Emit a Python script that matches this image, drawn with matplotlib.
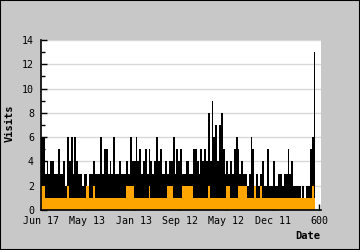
import numpy as np
import matplotlib
matplotlib.use("Agg")
import matplotlib.pyplot as plt
from matplotlib.patches import Rectangle

# ---- data (one value per 4 days) ----
visits = [6, 6, 3, 4, 3, 4, 4, 3, 3, 5,
          3, 3, 4, 2, 6, 4, 6, 3, 6, 4,
          3, 3, 2, 3, 3, 2, 3, 3, 4, 3,
          3, 3, 6, 3, 5, 5, 3, 4, 3, 6,
          3, 3, 4, 3, 3, 3, 4, 3, 6, 4,
          4, 6, 4, 5, 3, 4, 5, 3, 5, 4,
          3, 4, 6, 4, 5, 3, 3, 4, 3, 4,
          4, 6, 3, 5, 4, 5, 3, 3, 4, 4,
          3, 3, 5, 5, 4, 3, 5, 4, 5, 4,
          8, 4, 9, 6, 7, 4, 7, 8, 5, 3,
          4, 3, 4, 3, 5, 6, 5, 3, 4, 3,
          3, 2, 3, 6, 5, 2, 3, 2, 3, 4,
          2, 2, 5, 2, 2, 4, 2, 2, 3, 3,
          2, 3, 3, 5, 3, 4, 2, 2, 2, 2,
          1, 2, 1, 2, 2, 5, 6, 13]

unique = [2, 2, 1, 1, 1, 1, 1, 1, 1, 1,
          1, 1, 1, 1, 2, 1, 1, 1, 1, 1,
          1, 1, 1, 1, 2, 2, 1, 1, 2, 1,
          1, 1, 1, 1, 1, 1, 1, 1, 1, 1,
          1, 1, 1, 1, 1, 1, 2, 2, 2, 2,
          1, 1, 1, 1, 1, 1, 1, 1, 2, 1,
          1, 1, 1, 1, 1, 1, 1, 1, 2, 2,
          2, 1, 1, 1, 1, 1, 2, 2, 2, 2,
          2, 2, 1, 1, 1, 1, 1, 1, 1, 1,
          2, 1, 1, 1, 1, 1, 1, 1, 1, 1,
          2, 2, 1, 1, 1, 1, 2, 2, 2, 2,
          2, 1, 1, 1, 1, 2, 1, 1, 2, 1,
          1, 1, 1, 1, 1, 1, 1, 1, 1, 1,
          1, 1, 1, 1, 1, 1, 1, 1, 1, 1,
          1, 1, 1, 1, 1, 1, 2, 1]

day_step = 4
tick_pos = [0, 100, 200, 300, 400, 500, 600]
tick_labels = ["Jun 17", "May 13", "Jan 13", "Sep 12", "May 12", "Dec 11", "600"]

# ---- plot ----
x = np.arange(len(visits) + 1) * day_step
v = np.append(visits, visits[-1])
u = np.append(unique, unique[-1])

fig = plt.figure(figsize=(3.6, 2.5), dpi=100, facecolor="#c8c8c8")
fig.patches.append(Rectangle((0, 0), 1, 1, transform=fig.transFigure,
                             fill=False, edgecolor="black", linewidth=1.5))
ax = fig.add_axes([41/360, 1-210/250, 280/360, 170/250])
ax.set_facecolor("white")

ax.fill_between(x, 0, v, step="post", color="black", linewidth=0)
ax.fill_between(x, 0, u, step="post", color="#ffa500", linewidth=0)

ax.set_xlim(0, 604)
ax.set_ylim(0, 14)
ax.set_yticks(range(0, 15, 2))
ax.set_yticks(range(1, 15, 2), minor=True)
ax.set_xticks(tick_pos)
ax.set_xticklabels(tick_labels)
ax.yaxis.grid(True, color="#d8d8d8", linewidth=1)
ax.set_axisbelow(True)

for s in ["top", "right"]:
    ax.spines[s].set_visible(False)
ax.spines["left"].set_linewidth(1.2)
ax.spines["bottom"].set_linewidth(1.2)

fnt = "DejaVu Sans Mono"
ax.tick_params(axis="both", which="major", direction="in", length=4, width=1,
               labelsize=7.2)
ax.tick_params(axis="both", which="minor", direction="in", length=3, width=1)
ax.tick_params(axis="y", pad=5)
ax.tick_params(axis="x", pad=4)
for lab in ax.get_xticklabels() + ax.get_yticklabels():
    lab.set_family(fnt)

fig.text(10/360, 1-123/250, "Visits", rotation=90, ha="center", va="center",
         family=fnt, weight="bold", fontsize=7.5)
fig.text(320/360, 1-236/250, "Date", ha="right", va="center",
         family=fnt, weight="bold", fontsize=7.5)

fig.savefig("out.png", dpi=100, facecolor=fig.get_facecolor())
